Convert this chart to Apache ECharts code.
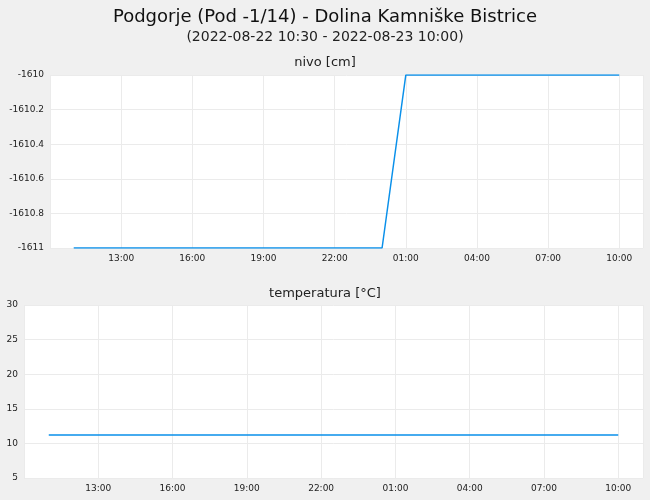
<!DOCTYPE html>
<html><head><meta charset="utf-8">
<script src="https://cdn.jsdelivr.net/npm/echarts@6/dist/echarts.min.js"></script>
<style>html,body{margin:0;background:#f0f0f0}#c{width:650px;height:500px}</style>
</head><body><div id="c"></div>
<script>
const times = ["11:00","12:00","13:00","14:00","15:00","16:00","17:00","18:00","19:00","20:00","21:00","22:00","23:00","00:00","01:00","02:00","03:00","04:00","05:00","06:00","07:00","08:00","09:00","10:00"];
const nivo = [-1611,-1611,-1611,-1611,-1611,-1611,-1611,-1611,-1611,-1611,-1611,-1611,-1611,-1611,-1610,-1610,-1610,-1610,-1610,-1610,-1610,-1610,-1610,-1610];
const temperatura = [11.2,11.2,11.2,11.2,11.2,11.2,11.2,11.2,11.2,11.2,11.2,11.2,11.2,11.2,11.2,11.2,11.2,11.2,11.2,11.2,11.2,11.2,11.2,11.2];
const startHour = 11;
const hours = times.map((t,i)=>startHour+i);
const font = 'DejaVu Sans';
function fmt(v){ if(v===10||v>34) return ''; const h=((v%24)+24)%24; return (h<10?'0':'')+h+':00'; }
function xAx(gi){ return {type:'value',gridIndex:gi,min:10,max:35,interval:3,
  axisLine:{show:false},axisTick:{show:false},
  axisLabel:{formatter:fmt,fontSize:9,color:'#222',fontFamily:font,margin:6},
  splitLine:{lineStyle:{color:'#ebebeb'}}}; }
const ls = {color:'#0a90ea',width:1.5};
const chart = echarts.init(document.getElementById('c'));
chart.setOption({
  backgroundColor:'#f0f0f0',
  animation:false,
  title:[
    {text:'Podgorje (Pod -1/14) - Dolina Kamniške Bistrice',left:'center',top:3,textStyle:{fontSize:18,fontWeight:'normal',color:'#111',fontFamily:font}},
    {text:'(2022-08-22 10:30 - 2022-08-23 10:00)',left:'center',top:25,textStyle:{fontSize:14,fontWeight:'normal',color:'#222',fontFamily:font}},
    {text:'nivo [cm]',left:'center',top:51,textStyle:{fontSize:13,fontWeight:'normal',color:'#222',fontFamily:font}},
    {text:'temperatura [°C]',left:'center',top:282,textStyle:{fontSize:13,fontWeight:'normal',color:'#222',fontFamily:font}}
  ],
  grid:[
    {left:50,right:7,top:75,height:173,backgroundColor:'#fff',show:true,borderWidth:0},
    {left:24,right:7,top:305,height:173,backgroundColor:'#fff',show:true,borderWidth:0}
  ],
  xAxis:[xAx(0),xAx(1)],
  yAxis:[
    {type:'value',gridIndex:0,min:-1611,max:-1610,interval:0.2,axisLine:{show:false},axisTick:{show:false},
     axisLabel:{fontSize:9,color:'#222',fontFamily:font,margin:6,formatter:v=>String(Math.round(v*10)/10)},splitLine:{lineStyle:{color:'#ebebeb'}}},
    {type:'value',gridIndex:1,min:5,max:30,interval:5,axisLine:{show:false},axisTick:{show:false},
     axisLabel:{fontSize:9,color:'#222',fontFamily:font,margin:6},splitLine:{lineStyle:{color:'#ebebeb'}}}
  ],
  series:[
    {type:'line',xAxisIndex:0,yAxisIndex:0,showSymbol:false,lineStyle:ls,itemStyle:{color:ls.color},data:hours.map((h,i)=>[h,nivo[i]])},
    {type:'line',xAxisIndex:1,yAxisIndex:1,showSymbol:false,lineStyle:ls,itemStyle:{color:ls.color},data:hours.map((h,i)=>[h,temperatura[i]])}
  ]
});
</script></body></html>
